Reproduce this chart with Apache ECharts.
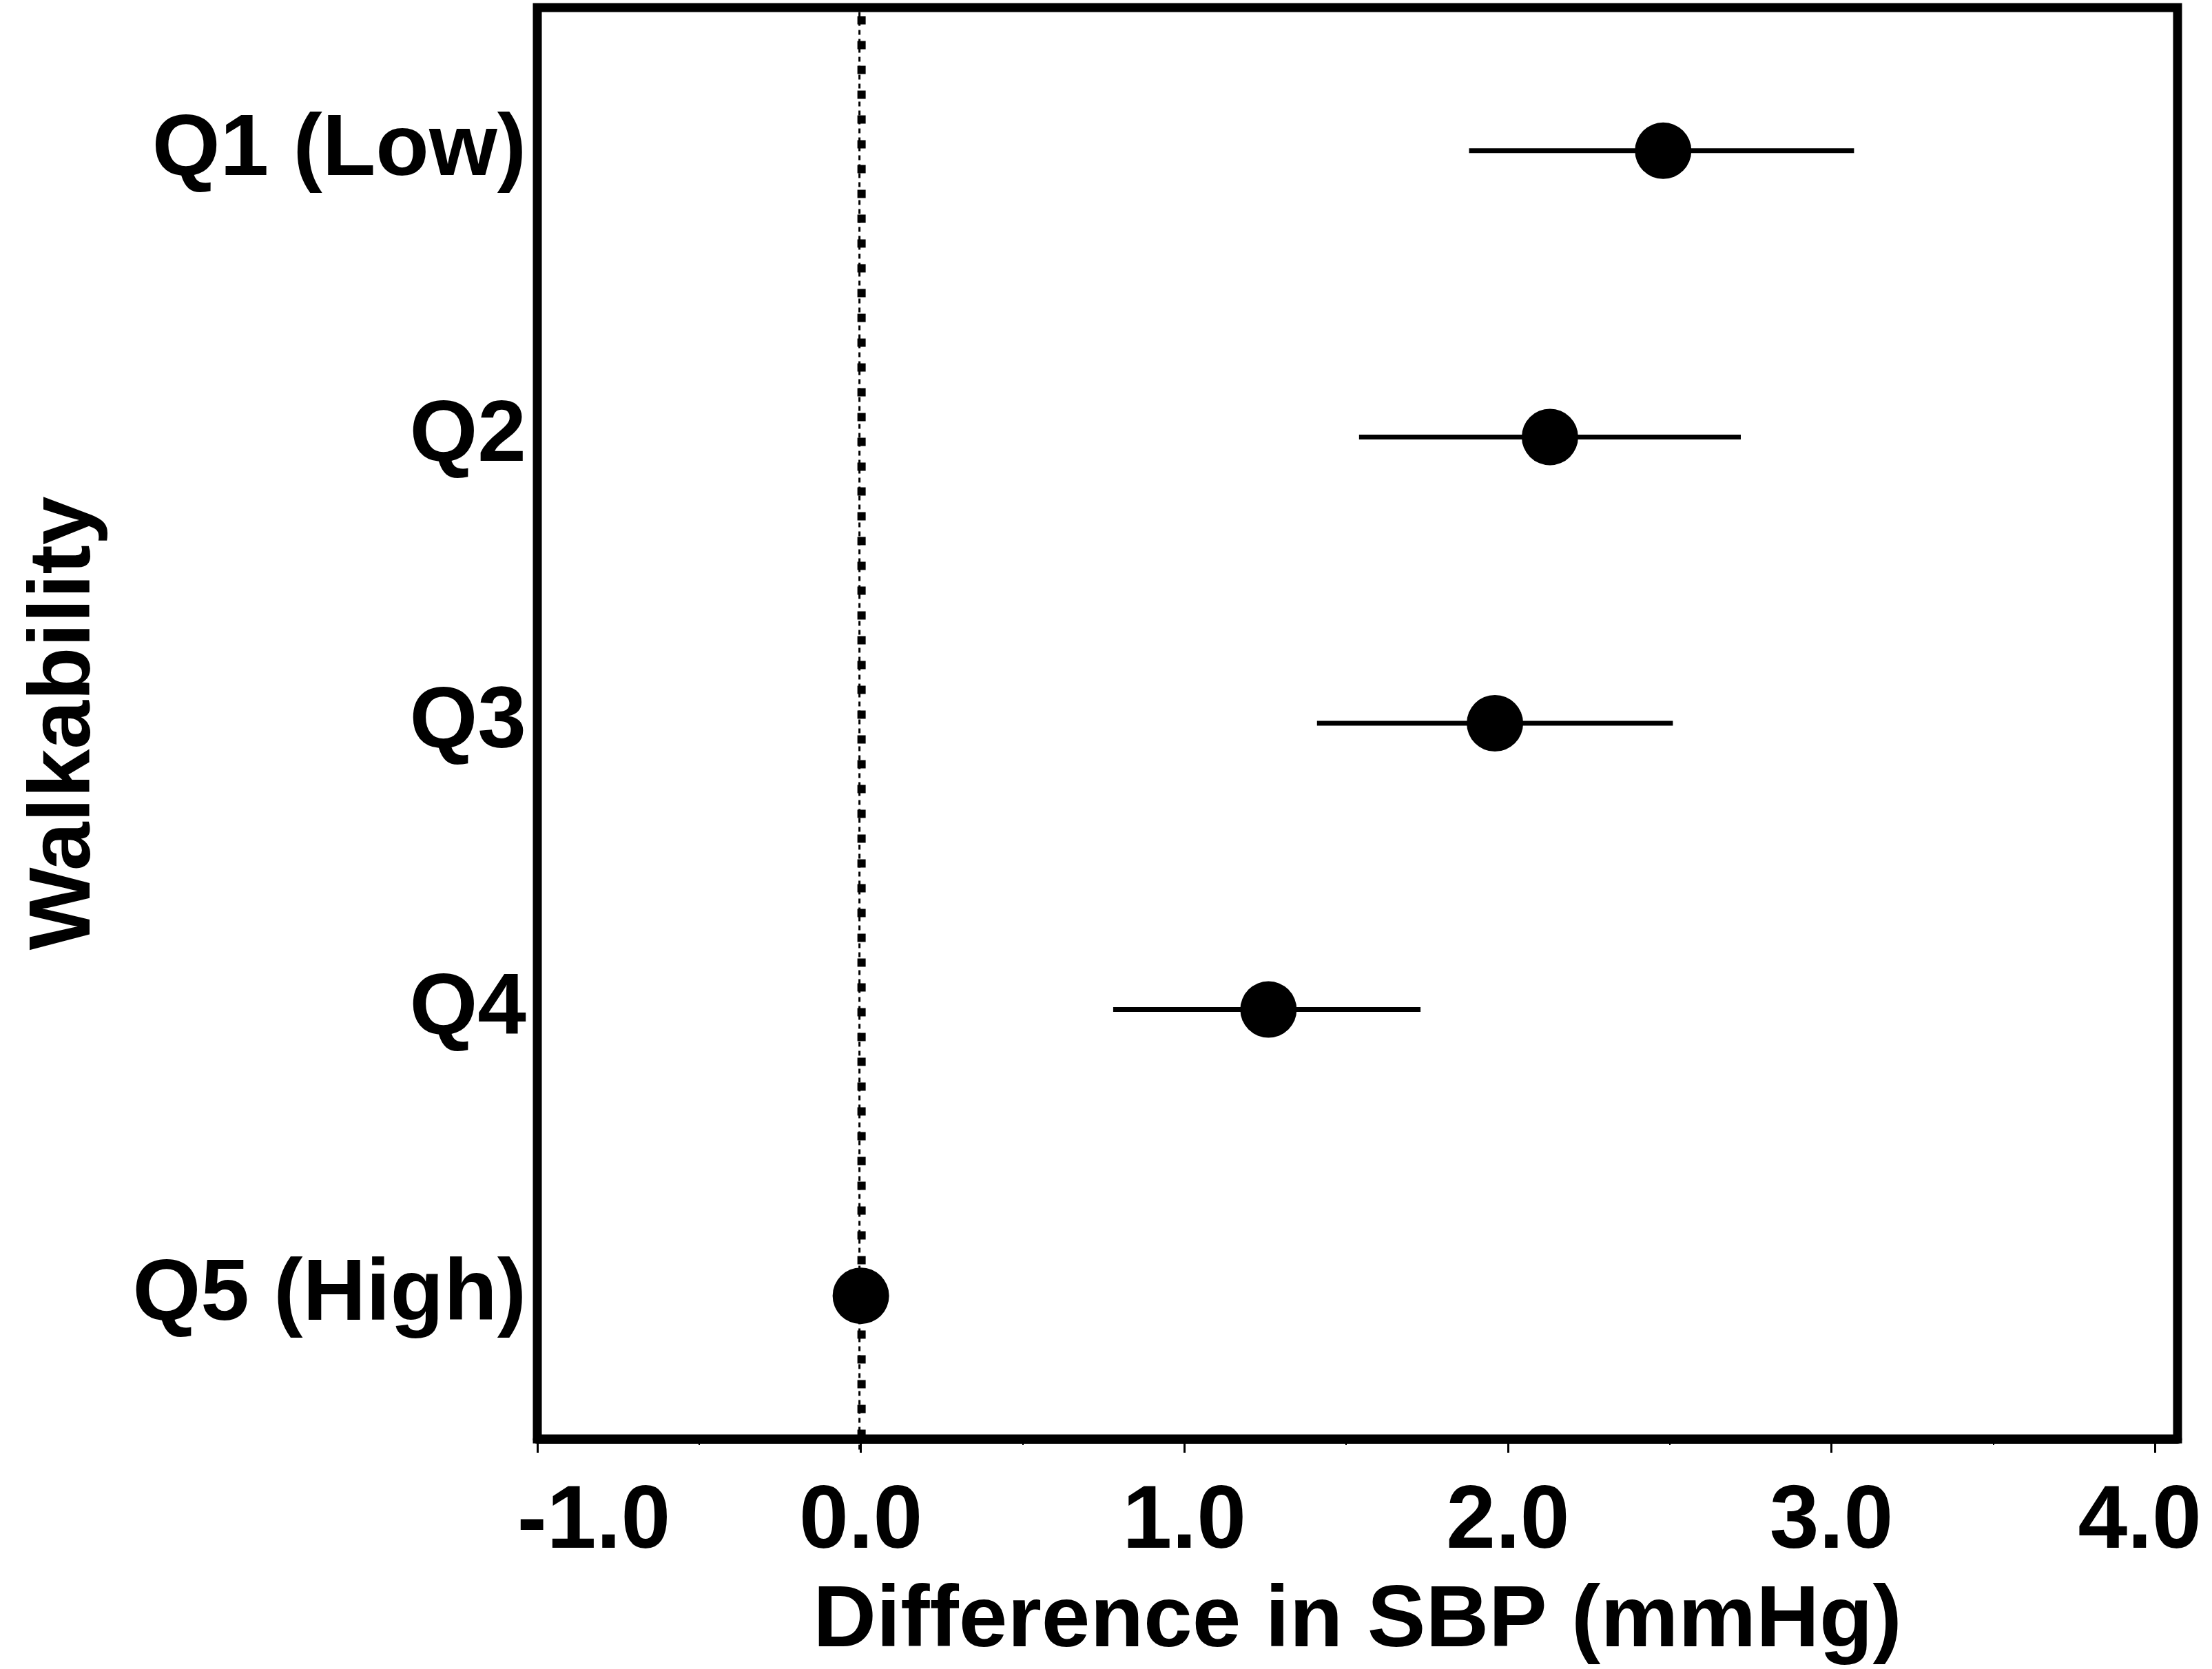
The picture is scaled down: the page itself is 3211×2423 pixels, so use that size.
<!DOCTYPE html>
<html>
<head>
<meta charset="utf-8">
<script src="https://cdn.jsdelivr.net/npm/echarts@6/dist/echarts.min.js"></script>
<style>
  html, body { margin: 0; padding: 0; background: #fff; }
  #chart { width: 3211px; height: 2423px; }
</style>
</head>
<body>
<div id="chart"></div>
<script>
// ---- data ----
const categories = ['Q1 (Low)', 'Q2', 'Q3', 'Q4', 'Q5 (High)'];
const estimates  = [2.48, 2.13, 1.96, 1.26, 0.0];
const ciLower    = [1.88, 1.54, 1.41, 0.78, null];
const ciUpper    = [3.07, 2.72, 2.51, 1.73, null];
const xTicks     = [-1.0, 0.0, 1.0, 2.0, 3.0, 4.0];
const xMinorTicks = [-0.5, 0.5, 1.5, 2.5, 3.5];
const xMin = -1.0, xMax = 4.07;
const refLine = 0;
const xTitle = 'Difference in SBP (mmHg)';
const yTitle = 'Walkability';

const FONT = '"Liberation Sans", Arial, Helvetica, sans-serif';
const FS = 127;
const FS_TICK = 129;
const FRAME = 13;

const chart = echarts.init(document.getElementById('chart'), null, { renderer: 'canvas' });

const ciData = categories.map((c, i) => [ciLower[i], ciUpper[i], c]).filter(d => d[0] !== null);
const pointData = categories.map((c, i) => [estimates[i], c]);

const tickStyle = { color: '#000', fontFamily: FONT, fontWeight: 'bold', fontSize: FS_TICK };

const option = {
  backgroundColor: '#ffffff',
  animation: false,
  grid: {
    left: 780, right: 50, top: 11, bottom: 333,
    show: true, borderColor: '#000', borderWidth: FRAME, backgroundColor: 'transparent'
  },
  xAxis: [{
    type: 'value', min: xMin, max: xMax, position: 'bottom',
    axisLine: { show: true, onZero: false, lineStyle: { color: '#000', width: FRAME } },
    axisTick: { show: true, length: 20, lineStyle: { color: '#000', width: 3 }, customValues: xTicks },
    axisLabel: {
      show: true, customValues: xTicks, margin: 58,
      formatter: function (v) {
        const s = v.toFixed(1);
        if (v === xTicks[0]) return '{first|' + s + '}';
        if (v === xTicks[xTicks.length - 1]) return '{last|' + s + '}';
        return s;
      },
      rich: {
        first: Object.assign({ padding: [0, 0, 0, 164] }, tickStyle),
        last: Object.assign({ padding: [0, 44, 0, 0] }, tickStyle)
      },
      ...tickStyle
    },
    splitLine: { show: false },
    name: xTitle, nameLocation: 'middle', nameGap: 202,
    nameTextStyle: { color: '#000', fontFamily: FONT, fontWeight: 'bold', fontSize: FS }
  }, {
    type: 'value', min: xMin, max: xMax, position: 'bottom',
    axisLine: { show: false, onZero: false },
    axisTick: { show: true, length: 9, lineStyle: { color: '#000', width: 2 }, customValues: xMinorTicks },
    axisLabel: { show: false },
    splitLine: { show: false }
  }],
  yAxis: {
    type: 'category', data: categories, inverse: true, boundaryGap: true,
    axisLine: { show: false, onZero: false },
    axisTick: { show: false },
    axisLabel: {
      margin: 16, color: '#000', fontFamily: FONT, fontWeight: 'bold', fontSize: FS
    },
    splitLine: { show: false },
    name: yTitle, nameLocation: 'middle', nameGap: 622, nameRotate: 90,
    nameTextStyle: { color: '#000', fontFamily: FONT, fontWeight: 'bold', fontSize: FS }
  },
  series: [
    {
      // reference line at x = 0 (dash-dot style: thin dashes + heavy squares)
      type: 'custom',
      xAxisIndex: 0,
      data: [[refLine]],
      encode: { x: 0 },
      silent: true,
      z: 2,
      renderItem: function (params, api) {
        const cs = params.coordSys;
        const x = api.coord([api.value(0), categories[0]])[0];
        const y1 = cs.y + FRAME / 2;
        const y2 = cs.y + cs.height + 20;
        return {
          type: 'group',
          children: [
            {
              type: 'line',
              shape: { x1: x - 2, y1: y1, x2: x - 2, y2: y2 },
              style: { stroke: '#000', lineWidth: 3, lineDash: [7, 6] }
            },
            {
              type: 'line',
              shape: { x1: x + 1, y1: y1 + 6, x2: x + 1, y2: y2 },
              style: { stroke: '#000', lineWidth: 12, lineDash: [12, 24] }
            }
          ]
        };
      }
    },
    {
      type: 'custom',
      xAxisIndex: 0,
      data: ciData,
      renderItem: function (params, api) {
        const cat = api.value(2);
        const p1 = api.coord([api.value(0), cat]);
        const p2 = api.coord([api.value(1), cat]);
        return {
          type: 'line',
          shape: { x1: p1[0], y1: p1[1], x2: p2[0], y2: p2[1] },
          style: { stroke: '#000', lineWidth: 7 }
        };
      },
      encode: { x: [0, 1], y: 2 },
      z: 3
    },
    {
      type: 'scatter',
      xAxisIndex: 0,
      data: pointData,
      symbol: 'circle',
      symbolSize: 82,
      itemStyle: { color: '#000', opacity: 1 },
      z: 5
    }
  ]
};
chart.setOption(option);
</script>
</body>
</html>
